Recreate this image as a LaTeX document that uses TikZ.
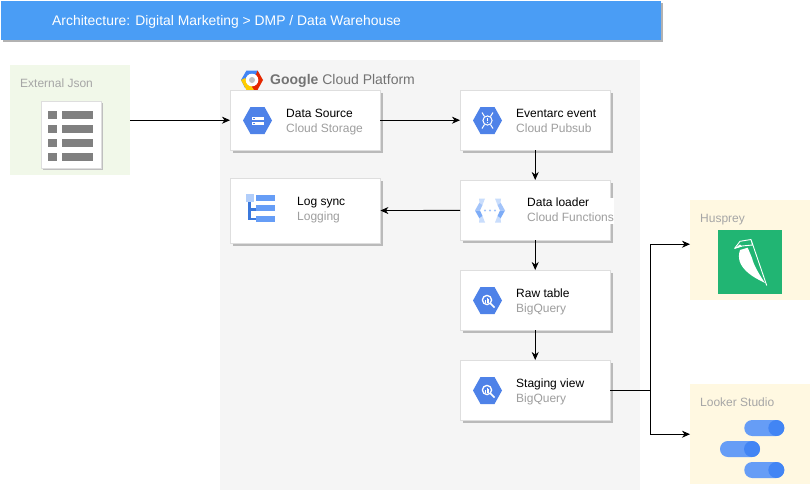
\documentclass[tikz,border=0pt]{standalone}
\usepackage{fontspec}
\setmainfont{Liberation Sans}
\usetikzlibrary{arrows.meta,shadows}
\definecolor{hexblue}{HTML}{4E82E8}
\definecolor{barblue}{HTML}{669DF6}
\definecolor{dotblue}{HTML}{4285F4}
\definecolor{palegrey}{HTML}{F5F5F5}
\definecolor{subgrey}{HTML}{9E9E9E}
\definecolor{labelgrey}{HTML}{A6A6A6}
\definecolor{bannerblue}{HTML}{4A9DF5}
\definecolor{palegreen}{HTML}{F1F8E9}
\definecolor{paleyellow}{HTML}{FFF8E1}
\definecolor{birdgreen}{HTML}{21B573}
\tikzset{
  flow/.style={line width=0.9pt,-{Stealth[length=8pt,width=7pt,inset=2.5pt]}},
  card/.style={draw=black!13,fill=white,minimum width=150pt,anchor=north west,
    drop shadow={shadow xshift=2.5pt,shadow yshift=-2.5pt,fill=black!27,opacity=1}},
  cardtext/.style={anchor=west,align=left,font=\fontsize{12}{15}\selectfont,inner sep=0pt,
    execute at end node={\vphantom{g}}},
  zone/.style={anchor=north west,inner sep=0pt},
  zonetext/.style={anchor=west,inner sep=0pt,font=\fontsize{12}{14}\selectfont,text=labelgrey}
}
\newcommand{\hexicon}[1]{
  \fill[hexblue] (#1) ++(-14.5,0) -- ++(7.5,-13.5) -- ++(14,0) -- ++(7.5,13.5) -- ++(-7.5,13.5) -- ++(-14,0) -- cycle;
}
\newcommand{\bqglyph}[1]{
  \draw[white,line width=1.3pt] (#1) ++(-0.5,-0.5) circle (4.6);
  \draw[white,line width=1.5pt] (#1) ++(3,3) -- ++(4,4);
  \fill[white] (#1) ++(-2.7,-0.5) rectangle ++(1,2.5);
  \fill[white] (#1) ++(-1,-3) rectangle ++(1,5);
  \fill[white] (#1) ++(0.7,-1.2) rectangle ++(1,3.2);
}
\begin{document}
\begin{tikzpicture}[x=1pt,y=-1pt]
  \useasboundingbox (0,0) rectangle (811,491);
  \node[zone,fill=bannerblue,minimum width=660pt,minimum height=39pt,
    drop shadow={shadow xshift=2pt,shadow yshift=-2pt,fill=black!30,opacity=1}] (banner) at (0.5,0.5) {};
  \node[anchor=west,inner sep=0pt,text=white,font=\fontsize{13.9}{16}\selectfont] (bannertext) at (52,22) {Architecture: Digital Marketing > DMP / Data Warehouse};

  \node[zone,fill=palegrey,minimum width=420pt,minimum height=430pt] (gcp) at (220,60) {};
  \node[zone,fill=palegreen,minimum width=120pt,minimum height=110pt] (external) at (10,65) {};
  \node[zone,fill=paleyellow,minimum width=120pt,minimum height=100pt] (husprey) at (690,200) {};
  \node[zone,fill=paleyellow,minimum width=120pt,minimum height=100pt] (looker) at (690,384) {};
  \node[zonetext] (externaltext) at (20,83) {External Json};
  \node[zonetext] (hustext) at (700,220) {Husprey};
  \node[zonetext] (lookertext) at (700,402) {Looker Studio};

  \fill[dotblue] (241,80) -- (246.5,70.5) -- (257.5,70.5) -- (260,75) -- (245,88) -- cycle;
  \fill[red!65!orange!90!black] (257.5,70.5) -- (263,80) -- (257.5,90) -- (250,90) -- cycle;
  \fill[orange!40!yellow] (241,80) -- (246.5,90) -- (254,90) -- (250,84) -- (245,78) -- cycle;
  \fill[white] (252,80) circle (6.3);
  \fill[black!25] (252,80) circle (3);
  \node[anchor=west,inner sep=0pt,text=black!55,font=\fontsize{14}{16}\selectfont] (gcptext) at (270,80.5) {\textbf{Google} Cloud Platform};

  \node[card,minimum height=60pt] (source) at (230,90) {};
  \node[card,minimum height=60pt] (event) at (460,90) {};
  \node[card,minimum height=60pt] (loader) at (460,180) {};
  \node[card,minimum height=65pt] (logsync) at (230,178) {};
  \node[card,minimum height=60pt] (rawtable) at (460,270) {};
  \node[card,minimum height=60pt] (staging) at (460,360) {};

  \node[cardtext] (sourcetext) at (286,122) {Data Source\\\textcolor{subgrey}{Cloud Storage}};
  \node[cardtext] (eventtext) at (516,122) {Eventarc event\\\textcolor{subgrey}{Cloud Pubsub}};
  \node[cardtext,fill=white] (loadertext) at (527,211) {Data loader\\\textcolor{subgrey}{Cloud Functions}};
  \node[cardtext] (logtext) at (297,210) {Log sync\\\textcolor{subgrey}{Logging}};
  \node[cardtext] (rawtext) at (516,302) {Raw table\\\textcolor{subgrey}{BigQuery}};
  \node[cardtext] (stagingtext) at (516,392) {Staging view\\\textcolor{subgrey}{BigQuery}};

  \hexicon{257.5,120.5}
  \fill[white] (251.5,116.5) rectangle (263.5,119.5);
  \fill[white] (251.5,121.5) rectangle (263.5,124.5);
  \fill[hexblue] (253,117.5) rectangle (254.5,118.5);
  \fill[hexblue] (253,122.5) rectangle (254.5,123.5);

  \hexicon{487.5,120.5}
  \draw[white,line width=1pt] (487.5,120.5) circle (4.6);
  \fill[white] (487,117.5) rectangle (488,121);
  \fill[white] (487.5,122.5) circle (0.6);
  \draw[white,line width=1pt] (482,112.5) -- (484.5,116.5) (493,112.5) -- (490.5,116.5)
    (482,128.5) -- (484.5,124.5) (493,128.5) -- (490.5,124.5);

  \foreach \s in {1,-1}{
    \fill[barblue!60] (490+\s*15,210.5) -- (490+\s*10.5,202.5) -- (490+\s*7.5,205) -- (490+\s*10,210.5) -- cycle;
    \fill[barblue!85] (490+\s*15,210.5) -- (490+\s*10.5,218.5) -- (490+\s*7.5,216) -- (490+\s*10,210.5) -- cycle;
    \fill[barblue!35] (490+\s*11,198.5) -- (490+\s*5,198.5) -- (490+\s*7.5,205) -- (490+\s*10.5,202.5) -- cycle;
    \fill[barblue!35] (490+\s*11,222.5) -- (490+\s*5,222.5) -- (490+\s*7.5,216) -- (490+\s*10.5,218.5) -- cycle;
  }
  \foreach \d in {-5,0,5}
    \fill[barblue!60] (490+\d,210.5) circle (1.1);

  \fill[barblue!50] (245.5,193.5) rectangle (254,202);
  \fill[dotblue!90!black] (248,202) rectangle (250.5,220);
  \fill[dotblue!90!black] (248,208) rectangle (256,210.5);
  \fill[dotblue!90!black] (248,217.5) rectangle (256,220);
  \foreach \y in {195,205,216}
    \fill[barblue] (255.5,\y) rectangle (275,\y+6);

  \hexicon{487.5,300.5}
  \bqglyph{487.5,300.5}
  \hexicon{487.5,390.5}
  \bqglyph{487.5,390.5}

  \node[zone,draw=black!13,fill=white,minimum width=60pt,minimum height=67pt,
    drop shadow={shadow xshift=2pt,shadow yshift=-2pt,fill=black!25,opacity=1}] (jsondoc) at (40.5,100.5) {};
  \foreach \y in {110.5,124.5,138.5,152.5}{
    \fill[black!50] (48,\y) rectangle (56.5,\y+8);
    \fill[black!50] (62,\y) rectangle (93,\y+8);
  }

  \node[zone,fill=birdgreen,minimum size=64pt] (birdbox) at (718,230) {};
  \fill[white] (740,250) .. controls (737.5,258) and (739,265) .. (748.3,273) .. controls (753,277) and (759,280) .. (765,283)
    .. controls (759,274) and (754,266) .. (752,258) -- (747.7,247.7) -- cycle;
  \draw[white,line width=0.9pt,line join=round] (734.5,248.5) -- (740,241.3) -- (751,239.5) -- (766.7,285.5)
    (751,239.5) -- (752.5,245) -- (742,246) -- (734.5,248.5);
  \fill[white] (734.5,248.5) -- (740,244.5) -- (742,246.5) -- cycle;

  \foreach \px/\py in {744.3/420,720/441,744.3/462}{
    \fill[barblue,rounded corners=7.9pt] (\px,\py) rectangle ++(40,16);
    \fill[dotblue] (\px+32,\py+8) circle (8);
  }

  \path (staging.east) ++(40,0) coordinate (split);
  \draw[flow] (external) -- (source);
  \draw[flow] (source) -- (event);
  \draw[flow] (event) -- (loader);
  \draw[flow] (loader) -- (logsync);
  \draw[flow] (loader) -- (rawtable);
  \draw[flow] (rawtable) -- (staging);
  \draw[flow] (staging.east) -- (split) |- ([yshift=6pt]husprey.west);
  \draw[flow] (split) |- (looker.west);
\end{tikzpicture}
\end{document}
